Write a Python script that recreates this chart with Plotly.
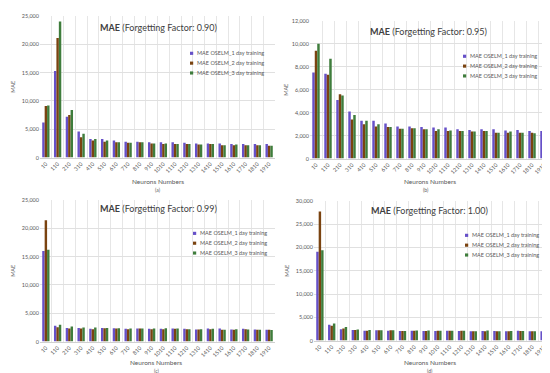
import plotly.graph_objects as go

neurons = ["10", "110", "210", "310", "410", "510", "610", "710", "810", "910",
           "1010", "1110", "1210", "1310", "1410", "1510", "1610", "1710", "1810", "1910"]
series_names = ["MAE OSELM_1 day training", "MAE OSELM_2 day training", "MAE OSELM_3 day training"]

# Forgetting factor 0.90
ff090_d1 = [6200, 15300, 7200, 4600, 3300, 3300, 3000, 2800, 2800, 2700, 2700, 2700, 2600, 2500, 2500, 2500, 2400, 2400, 2400, 2400]
ff090_d2 = [9100, 21100, 7500, 3600, 3000, 2800, 2700, 2600, 2700, 2500, 2400, 2400, 2400, 2300, 2400, 2200, 2200, 2200, 2200, 2100]
ff090_d3 = [9200, 24000, 8400, 4200, 3300, 3000, 2700, 2600, 2700, 2500, 2500, 2400, 2400, 2300, 2400, 2200, 2300, 2200, 2200, 2100]
# Forgetting factor 0.95
ff095_d1 = [7500, 7400, 5100, 4100, 3300, 3300, 3050, 2800, 2800, 2750, 2700, 2700, 2550, 2500, 2550, 2550, 2450, 2500, 2400, 2400]
ff095_d2 = [9400, 7300, 5600, 3400, 3000, 2800, 2750, 2600, 2650, 2550, 2400, 2400, 2400, 2350, 2400, 2250, 2250, 2250, 2250, 2200]
ff095_d3 = [10000, 8700, 5500, 3800, 3300, 3000, 2750, 2600, 2650, 2550, 2550, 2450, 2400, 2350, 2400, 2250, 2350, 2250, 2200, 2200]
# Forgetting factor 0.99
ff099_d1 = [16000, 2800, 2400, 2400, 2250, 2400, 2350, 2250, 2300, 2250, 2250, 2300, 2250, 2150, 2300, 2300, 2150, 2250, 2150, 2100]
ff099_d2 = [21400, 2550, 2300, 2300, 2200, 2350, 2300, 2200, 2300, 2200, 2200, 2250, 2200, 2150, 2200, 2100, 2100, 2200, 2100, 2100]
ff099_d3 = [16200, 2950, 2650, 2500, 2500, 2400, 2350, 2300, 2300, 2300, 2350, 2300, 2200, 2200, 2250, 2100, 2200, 2150, 2100, 2050]
# Forgetting factor 1.00
ff100_d1 = [19100, 3400, 2450, 2300, 2100, 2200, 2100, 2050, 2100, 2050, 2050, 2100, 2050, 2000, 2050, 2050, 2000, 2100, 2000, 2000]
ff100_d2 = [27700, 3200, 2600, 2300, 2100, 2200, 2200, 2050, 2100, 2050, 2100, 2100, 2100, 2000, 2000, 2000, 2000, 2050, 2000, 2000]
ff100_d3 = [19400, 3700, 2900, 2400, 2300, 2250, 2200, 2050, 2150, 2150, 2100, 2100, 2100, 2000, 2150, 2000, 2050, 2050, 2000, 2000]

titles = ["0.90", "0.95", "0.99", "1.00"]
panel_labels = ["(a)", "(b)", "(c)", "(d)"]
colors = ["#6650c8", "#7a4310", "#3f7d3c"]

W, H = 550, 373
FONT = "Lato"

panels = [
    dict(data=[ff090_d1, ff090_d2, ff090_d3], x=(32, 267), y=(5, 149), ymax=25000, dtick=5000,
         title=(150, 17), leg=(182, 43), xt=(150, 173), lab=(150, 182), yt=5),
    dict(data=[ff095_d1, ff095_d2, ff095_d3], x=(302, 542), y=(10, 150), ymax=12000, dtick=2000,
         title=(420, 21), leg=(455, 46), xt=(422, 173), lab=(418, 182), yt=278),
    dict(data=[ff099_d1, ff099_d2, ff099_d3], x=(32, 267), y=(192, 336), ymax=25000, dtick=5000,
         title=(150, 201), leg=(185, 226), xt=(148, 357), lab=(148, 366), yt=5),
    dict(data=[ff100_d1, ff100_d2, ff100_d3], x=(306, 542), y=(193, 335), ymax=30000, dtick=5000,
         title=(422, 203), leg=(457, 228), xt=(422, 357), lab=(422, 366), yt=279),
]

fig = go.Figure()
annotations = []
shapes = []
layout = {}
for i, p in enumerate(panels):
    n = "" if i == 0 else str(i + 1)
    xa, ya = "x" + n, "y" + n
    for k in range(3):
        fig.add_trace(go.Bar(x=neurons, y=p["data"][k], name=series_names[k],
                             marker=dict(color=colors[k], line=dict(width=0)),
                             xaxis=xa, yaxis=ya, showlegend=False))
    layout["xaxis" + n] = dict(
        domain=[p["x"][0] / W, p["x"][1] / W], anchor=ya, type="category",
        tickangle=-45, tickson="boundaries", showgrid=True, gridcolor="#e6e6e6", gridwidth=1,
        tickfont=dict(size=5.5, color="#595959", family=FONT), ticks="",
        showline=True, linecolor="#d0d0d0", linewidth=1, mirror=False)
    layout["yaxis" + n] = dict(
        domain=[1 - p["y"][1] / H, 1 - p["y"][0] / H], anchor=xa,
        range=[0, p["ymax"]], dtick=p["dtick"], tickformat=",",
        showgrid=True, gridcolor="#e0e0e0", gridwidth=1, zeroline=False,
        tickfont=dict(size=5.5, color="#595959", family=FONT), ticks="",
        showline=False)
    # legend (drawn as small squares + texts)
    lx, ly = p["leg"]
    for k in range(3):
        yy = ly + 10 * k
        shapes.append(dict(type="rect", xref="paper", yref="paper",
                           x0=lx / W, x1=(lx + 3.2) / W, y0=1 - (yy + 1.6) / H, y1=1 - (yy - 1.6) / H,
                           fillcolor=colors[k], line=dict(width=0)))
        annotations.append(dict(x=(lx + 5) / W, y=1 - yy / H, xref="paper", yref="paper",
                                text=series_names[k], showarrow=False,
                                font=dict(size=5.5, color="#595959", family=FONT),
                                xanchor="left", yanchor="middle"))
    annotations.append(dict(x=p["title"][0] / W, y=1 - p["title"][1] / H, xref="paper", yref="paper",
                            text="<b>MAE</b> (Forgetting Factor: %s)" % titles[i], showarrow=False,
                            font=dict(size=9, color="#404040", family=FONT), xanchor="center", yanchor="middle"))
    annotations.append(dict(x=p["xt"][0] / W, y=1 - p["xt"][1] / H, xref="paper", yref="paper",
                            text="Neurons Numbers", showarrow=False,
                            font=dict(size=6.5, color="#595959", family=FONT), xanchor="center", yanchor="middle"))
    annotations.append(dict(x=p["lab"][0] / W, y=1 - p["lab"][1] / H, xref="paper", yref="paper",
                            text=panel_labels[i], showarrow=False, borderpad=0,
                            font=dict(size=5, color="#595959", family=FONT), xanchor="center", yanchor="middle"))
    annotations.append(dict(x=p["yt"] / W, y=1 - (p["y"][0] + p["y"][1]) / 2 / H, xref="paper", yref="paper",
                            text="MAE", showarrow=False, textangle=-90,
                            font=dict(size=5.5, color="#595959", family=FONT), xanchor="center", yanchor="middle"))

fig.update_layout(width=W, height=H, margin=dict(l=0, r=0, t=0, b=0),
                  paper_bgcolor="white", plot_bgcolor="white", showlegend=False,
                  barmode="group", bargap=0.38, bargroupgap=0,
                  annotations=annotations, shapes=shapes, **layout)
fig.write_html("out.html")
